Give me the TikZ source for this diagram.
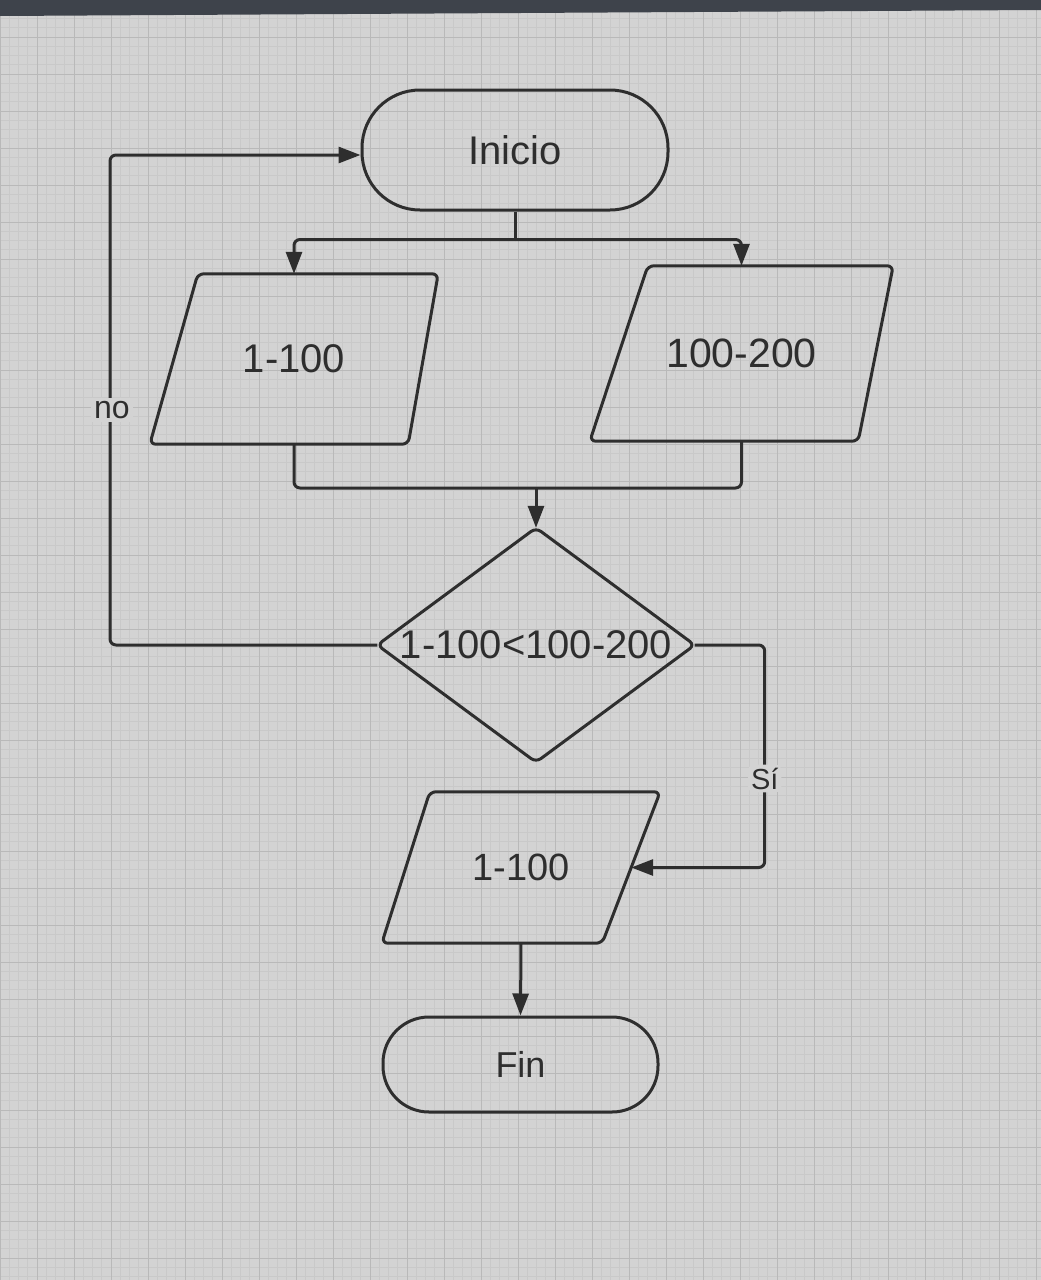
\documentclass[tikz,border=0pt]{standalone}
\usepackage{fontspec}
\setmainfont{Liberation Sans}
\usetikzlibrary{arrows.meta,calc}
\definecolor{bg}{HTML}{D3D3D3}
\definecolor{gridminor}{HTML}{C9C9C9}
\definecolor{gridmajor}{HTML}{B9B9B9}
\definecolor{ink}{HTML}{2E2E2E}
\definecolor{band}{HTML}{3E434B}
\begin{document}
\begin{tikzpicture}[x=1pt,y=-1pt,
  line/.style={draw=ink, line width=3pt, rounded corners=6pt},
  arr/.style={line, -{Triangle[length=22pt,width=16pt]}},
  lbl/.style={text=ink, inner sep=0pt},
  shapeline/.style={draw=ink, line width=3pt, rounded corners=6pt, line join=round}]
\useasboundingbox (0,0) rectangle (1041,1280);
% background
\fill[bg] (0,0) rectangle (1041,1280);
\foreach \x in {0,9.25,...,1041} \draw[gridminor, line width=0.6pt] (\x,0) -- (\x,1280);
\foreach \y in {0,9.25,...,1280} \draw[gridminor, line width=0.6pt] (0,\y) -- (1041,\y);
\foreach \x in {0,37,...,1041} \draw[gridmajor, line width=1pt] (\x,0) -- (\x,1280);
\foreach \y in {0,37,...,1280} \draw[gridmajor, line width=1pt] (0,\y) -- (1041,\y);
\fill[band] (0,0) -- (1041,0) -- (1041,10) -- (0,16) -- cycle;

% nodes
\node[shapeline, rounded corners=58pt, minimum width=306pt, minimum height=120pt, lbl,
      font=\fontsize{40}{48}\selectfont] (ini) at (515,150) {Inicio};

\node[lbl, minimum width=288pt, minimum height=170pt, font=\fontsize{40}{48}\selectfont] (p1) at (294,359) {1-100};
\draw[shapeline] ($(p1.north west)+(48,0)$) -- (p1.north east) -- ($(p1.south east)+(-30,0)$) -- (p1.south west) -- cycle;

\node[lbl, minimum width=303pt, minimum height=175pt, font=\fontsize{41}{49}\selectfont] (p2) at (741.5,353.5) {100-200};
\draw[shapeline] ($(p2.north west)+(58,0)$) -- (p2.north east) -- ($(p2.south east)+(-35,0)$) -- (p2.south west) -- cycle;

\node[lbl, minimum width=317pt, minimum height=234pt, font=\fontsize{40}{48}\selectfont] (d) at (536,645) {1-100<100-200};
\draw[shapeline] (d.north) -- (d.east) -- (d.south) -- (d.west) -- cycle;

\node[lbl, minimum width=278pt, minimum height=151pt, font=\fontsize{38}{46}\selectfont] (p3) at (521,867.5) {1-100};
\draw[shapeline] ($(p3.north west)+(48,0)$) -- (p3.north east) -- ($(p3.south east)+(-58,0)$) -- (p3.south west) -- cycle;
\coordinate (p3r) at ($(p3.north east)!0.5!($(p3.south east)+(-58,0)$)$);

\node[shapeline, rounded corners=46pt, minimum width=275pt, minimum height=95pt, lbl,
      font=\fontsize{36}{44}\selectfont] (fin) at (520.5,1064.5) {Fin};

% connectors
\draw[line] (ini.south) -- ++(0,28) coordinate (j1);
\draw[arr] (j1) -| (p1.north);
\draw[arr] (j1) -| (p2.north);

\coordinate (j2) at (536,488);
\draw[line] (p1.south) |- (j2) -| (p2.south);
\draw[arr] (j2) -- (d.north);

\coordinate (nl) at (110,400);
\draw[arr] (d.west) -| (nl) |- ($(ini.west)+(0,5)$);
\node[lbl, fill=bg, inner sep=3pt, font=\fontsize{32}{38}\selectfont] (nolbl) at (112,410) {no};

\draw[arr] (d.east) -- ++(70,0) |- (p3r)
  node[pos=0.3, lbl, fill=bg, inner sep=3pt, font=\fontsize{29}{35}\selectfont] (silbl) {Sí};

\draw[arr] (p3.south) -- (fin.north);
\end{tikzpicture}
\end{document}
